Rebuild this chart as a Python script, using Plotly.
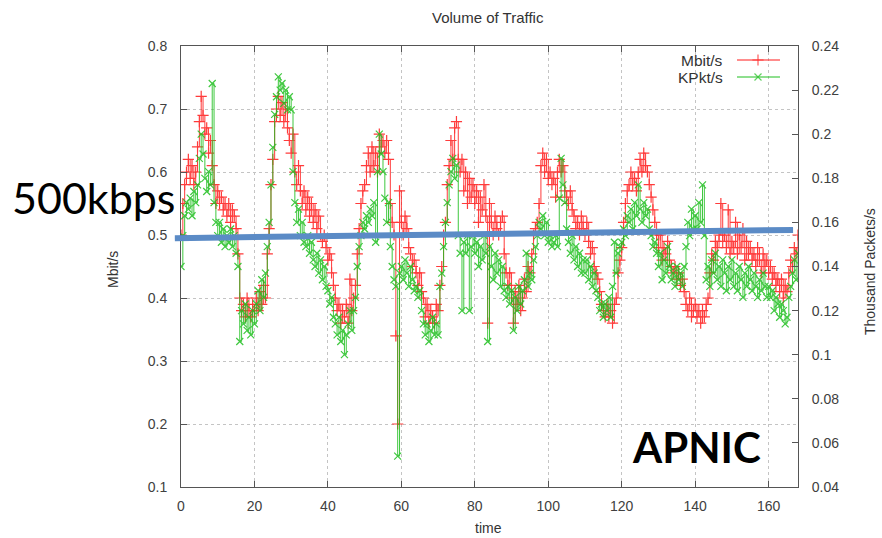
import plotly.graph_objects as go

# ---------------- data ----------------
time_step = 0.5
n_points = 337
time = [i * time_step for i in range(n_points)]

mbit = [
    0.50, 0.55, 0.58, 0.60, 0.62, 0.59, 0.61, 0.58, 0.60, 0.64, 0.68, 0.72, 0.69, 0.66, 0.67, 0.63, 0.65, 0.61, 0.58, 0.55,
    0.57, 0.55, 0.56, 0.54, 0.55, 0.53, 0.55, 0.52, 0.54, 0.53, 0.51, 0.47, 0.40, 0.38, 0.39, 0.37, 0.40, 0.38, 0.37, 0.39,
    0.38, 0.40, 0.38, 0.41, 0.39, 0.42, 0.40, 0.47, 0.51, 0.58, 0.62, 0.68, 0.70, 0.72, 0.69, 0.71, 0.68, 0.70, 0.67, 0.65,
    0.63, 0.66, 0.60, 0.58, 0.61, 0.57, 0.55, 0.57, 0.54, 0.56, 0.53, 0.55, 0.52, 0.54, 0.51, 0.53, 0.50, 0.49, 0.50, 0.48,
    0.46, 0.47, 0.44, 0.42, 0.40, 0.38, 0.39, 0.36, 0.38, 0.37, 0.39, 0.36, 0.43, 0.38, 0.40, 0.42, 0.47, 0.51, 0.55, 0.57,
    0.58, 0.61, 0.63, 0.60, 0.64, 0.61, 0.63, 0.60, 0.66, 0.64, 0.65, 0.63, 0.65, 0.62, 0.55, 0.52, 0.50, 0.34, 0.20, 0.57,
    0.52, 0.50, 0.53, 0.51, 0.48, 0.47, 0.45, 0.46, 0.44, 0.42, 0.44, 0.41, 0.40, 0.37, 0.39, 0.36, 0.38, 0.37, 0.36, 0.39,
    0.38, 0.42, 0.45, 0.50, 0.52, 0.58, 0.61, 0.65, 0.62, 0.67, 0.68, 0.62, 0.60, 0.62, 0.57, 0.60, 0.55, 0.59, 0.56, 0.58,
    0.55, 0.57, 0.52, 0.56, 0.54, 0.58, 0.53, 0.36, 0.55, 0.52, 0.50, 0.53, 0.51, 0.50, 0.52, 0.53, 0.47, 0.44, 0.42, 0.44,
    0.40, 0.36, 0.41, 0.39, 0.42, 0.38, 0.40, 0.43, 0.41, 0.45, 0.44, 0.47, 0.50, 0.51, 0.52, 0.55, 0.61, 0.63, 0.60, 0.62,
    0.59, 0.60, 0.58, 0.59, 0.56, 0.60, 0.62, 0.60, 0.61, 0.57, 0.56, 0.55, 0.57, 0.54, 0.53, 0.51, 0.52, 0.50, 0.53, 0.51,
    0.50, 0.52, 0.49, 0.47, 0.48, 0.45, 0.44, 0.43, 0.41, 0.39, 0.38, 0.37, 0.39, 0.37, 0.38, 0.36, 0.39, 0.40, 0.44, 0.46,
    0.48, 0.52, 0.55, 0.57, 0.58, 0.60, 0.58, 0.59, 0.57, 0.60, 0.62, 0.60, 0.63, 0.61, 0.60, 0.58, 0.56, 0.54, 0.52, 0.50,
    0.48, 0.50, 0.46, 0.48, 0.47, 0.49, 0.46, 0.45, 0.44, 0.45, 0.43, 0.44, 0.42, 0.43, 0.41, 0.39, 0.38, 0.40, 0.37, 0.38,
    0.39, 0.37, 0.38, 0.36, 0.38, 0.37, 0.39, 0.40, 0.44, 0.47, 0.46, 0.49, 0.48, 0.50, 0.55, 0.49, 0.50, 0.48, 0.54, 0.47,
    0.49, 0.48, 0.52, 0.47, 0.50, 0.48, 0.51, 0.46, 0.49, 0.47, 0.48, 0.46, 0.47, 0.45, 0.48, 0.46, 0.44, 0.47, 0.45, 0.46,
    0.44, 0.45, 0.43, 0.44, 0.42, 0.43, 0.41, 0.43, 0.40, 0.42, 0.41, 0.44, 0.46, 0.45, 0.48, 0.47, 0.50,
]

kpkt = [
    0.140, 0.154, 0.163, 0.169, 0.166, 0.171, 0.163, 0.174, 0.169, 0.177, 0.189, 0.200, 0.191, 0.180, 0.174, 0.183, 0.177, 0.223, 0.169, 0.160,
    0.154, 0.160, 0.151, 0.157, 0.149, 0.154, 0.151, 0.157, 0.149, 0.154, 0.146, 0.140, 0.106, 0.120, 0.114, 0.123, 0.111, 0.117, 0.109, 0.120,
    0.114, 0.123, 0.129, 0.120, 0.134, 0.126, 0.137, 0.149, 0.160, 0.177, 0.194, 0.209, 0.217, 0.226, 0.220, 0.223, 0.214, 0.220, 0.211, 0.217,
    0.211, 0.183, 0.169, 0.160, 0.166, 0.154, 0.160, 0.151, 0.149, 0.154, 0.146, 0.151, 0.143, 0.140, 0.146, 0.137, 0.143, 0.134, 0.140, 0.131,
    0.129, 0.123, 0.126, 0.117, 0.114, 0.109, 0.117, 0.106, 0.111, 0.100, 0.109, 0.114, 0.120, 0.111, 0.120, 0.126, 0.140, 0.149, 0.154, 0.160,
    0.157, 0.163, 0.160, 0.166, 0.163, 0.169, 0.151, 0.183, 0.200, 0.191, 0.183, 0.171, 0.160, 0.169, 0.149, 0.140, 0.134, 0.131, 0.054, 0.137,
    0.140, 0.134, 0.143, 0.137, 0.131, 0.140, 0.134, 0.129, 0.131, 0.126, 0.129, 0.120, 0.114, 0.109, 0.114, 0.106, 0.111, 0.117, 0.109, 0.114,
    0.109, 0.131, 0.137, 0.149, 0.160, 0.169, 0.177, 0.183, 0.189, 0.180, 0.186, 0.154, 0.146, 0.120, 0.151, 0.146, 0.154, 0.120, 0.149, 0.154,
    0.146, 0.151, 0.140, 0.149, 0.143, 0.154, 0.146, 0.106, 0.149, 0.140, 0.134, 0.146, 0.137, 0.143, 0.131, 0.140, 0.129, 0.126, 0.131, 0.123,
    0.129, 0.111, 0.126, 0.120, 0.131, 0.123, 0.129, 0.134, 0.146, 0.131, 0.137, 0.134, 0.143, 0.149, 0.154, 0.160, 0.157, 0.163, 0.154, 0.160,
    0.151, 0.154, 0.149, 0.151, 0.154, 0.149, 0.171, 0.189, 0.177, 0.169, 0.157, 0.151, 0.146, 0.154, 0.143, 0.149, 0.140, 0.146, 0.137, 0.143,
    0.137, 0.143, 0.134, 0.140, 0.131, 0.137, 0.129, 0.126, 0.120, 0.123, 0.117, 0.123, 0.120, 0.126, 0.117, 0.131, 0.151, 0.137, 0.146, 0.149,
    0.151, 0.157, 0.154, 0.163, 0.160, 0.166, 0.157, 0.169, 0.163, 0.177, 0.166, 0.160, 0.169, 0.163, 0.166, 0.157, 0.154, 0.149, 0.151, 0.146,
    0.140, 0.146, 0.134, 0.143, 0.137, 0.149, 0.140, 0.134, 0.137, 0.131, 0.140, 0.134, 0.137, 0.131, 0.140, 0.149, 0.160, 0.154, 0.166, 0.157,
    0.163, 0.157, 0.169, 0.160, 0.177, 0.154, 0.134, 0.140, 0.131, 0.143, 0.137, 0.146, 0.134, 0.140, 0.131, 0.143, 0.137, 0.129, 0.140, 0.134,
    0.143, 0.131, 0.137, 0.129, 0.140, 0.134, 0.126, 0.137, 0.131, 0.140, 0.134, 0.129, 0.137, 0.131, 0.126, 0.134, 0.129, 0.137, 0.131, 0.126,
    0.131, 0.126, 0.129, 0.120, 0.126, 0.123, 0.117, 0.123, 0.120, 0.114, 0.117, 0.126, 0.131, 0.137, 0.143, 0.134, 0.146,
]

x_ticks = [0, 20, 40, 60, 80, 100, 120, 140, 160]
x_range = [0, 168]
y_left_range = [0.1, 0.8]
y_right_range = [0.04, 0.24]

# overlay (blue "500kbps" line drawn on top of the chart)
trend_x_paper = [-0.01, 0.992]
trend_y = [0.495, 0.508]

series_names = ["Mbit/s", "KPkt/s"]
red = "#ff1a1a"
green = "#1fbf1f"

# ---------------- figure ----------------
W, H = 882, 538
L, R, T, B = 181, 84, 46, 51
PW, PH = W - L - R, H - T - B
font_family = "Liberation Sans, Arial, sans-serif"
tick_color = "#404040"


def px(xp):
    return (xp - L) / PW


def py(yp):
    return (H - B - yp) / PH


fig = go.Figure()

fig.add_trace(go.Scatter(
    x=time, y=mbit, name=series_names[0], mode="lines+markers",
    line=dict(color=red, width=1, shape="hv"),
    marker=dict(symbol="cross-thin", size=8, line=dict(color=red, width=1.2)),
    opacity=0.85, showlegend=False, yaxis="y",
))
fig.add_trace(go.Scatter(
    x=time, y=kpkt, name=series_names[1], mode="lines+markers",
    line=dict(color=green, width=1, shape="hv"),
    marker=dict(symbol="x-thin", size=7, line=dict(color=green, width=1.2)),
    opacity=0.85, showlegend=False, yaxis="y2",
))

# custom gnuplot-style legend (text left, sample right) on a hidden overlay axis
leg_x = [px(737), px(758), px(780)]
leg_y = [py(60), py(77)]
for i, (nm, col, sym, sz) in enumerate([(series_names[0], red, "cross-thin", 8),
                                         (series_names[1], green, "x-thin", 7)]):
    fig.add_trace(go.Scatter(
        x=leg_x, y=[leg_y[i]] * 3, mode="lines+markers", xaxis="x2", yaxis="y3",
        line=dict(color=col, width=1),
        marker=dict(symbol=sym, size=[0, sz, 0], line=dict(color=col, width=1.2)),
        showlegend=False, hoverinfo="skip",
    ))
    fig.add_annotation(x=px(725), y=leg_y[i], xref="paper", yref="paper",
                       text=nm, showarrow=False, xanchor="right", yanchor="middle",
                       font=dict(family=font_family, size=15.5, color="#333333"))

fig.add_shape(type="line", xref="paper", yref="y",
              x0=trend_x_paper[0], x1=trend_x_paper[1], y0=trend_y[0], y1=trend_y[1],
              line=dict(color="#5b8bc6", width=6), layer="above")

fig.add_annotation(x=px(93), y=py(197), xref="paper", yref="paper", text="500kbps",
                   showarrow=False, xanchor="center", yanchor="middle",
                   font=dict(family="Lato, Open Sans, sans-serif", size=43, color="black"))
fig.add_annotation(x=px(696), y=py(447), xref="paper", yref="paper", text="<b>APNIC</b>",
                   showarrow=False, xanchor="center", yanchor="middle",
                   font=dict(family="Lato, Open Sans, sans-serif", size=42, color="black"))

# axis titles and chart title
fig.add_annotation(x=px(113), y=py(270), xref="paper", yref="paper",
                   text="Mbit/s", textangle=-90, showarrow=False,
                   xanchor="center", yanchor="middle",
                   font=dict(family=font_family, size=14, color="#333333"))
fig.add_annotation(x=px(870), y=py(272), xref="paper", yref="paper",
                   text="Thousand Packets/s", textangle=-90, showarrow=False,
                   xanchor="center", yanchor="middle",
                   font=dict(family=font_family, size=14, color="#333333"))
fig.add_annotation(x=px(488), y=py(528), xref="paper", yref="paper",
                   text="time", showarrow=False, xanchor="center", yanchor="middle",
                   font=dict(family=font_family, size=14, color="#333333"))
fig.add_annotation(x=px(488), y=py(17), xref="paper", yref="paper",
                   text="Volume of Traffic", showarrow=False, xanchor="center", yanchor="middle",
                   font=dict(family=font_family, size=15, color="#333333"))

grid = dict(showgrid=True, gridcolor="#c4c4c4", griddash="dot", gridwidth=1)
fig.update_layout(
    width=W, height=H, margin=dict(l=L, r=R, t=T, b=B),
    paper_bgcolor="white", plot_bgcolor="white",
    font=dict(family=font_family, size=14, color=tick_color),
    xaxis=dict(range=x_range, tickvals=x_ticks, ticks="inside", ticklen=6,
               tickcolor="#555555", showline=True, linecolor="#555555", linewidth=1,
               mirror="ticks", zeroline=False, ticklabelstandoff=6, **grid),
    yaxis=dict(range=y_left_range, dtick=0.1, ticks="inside", ticklen=6,
               tickcolor="#555555", showline=True, linecolor="#555555", linewidth=1,
               zeroline=False, ticklabelstandoff=10, **grid),
    yaxis2=dict(range=y_right_range, dtick=0.02, overlaying="y", side="right",
                ticks="inside", ticklen=6, tickcolor="#555555", showline=True,
                linecolor="#555555", linewidth=1, showgrid=False, zeroline=False,
                ticklabelstandoff=10),
    xaxis2=dict(range=[0, 1], overlaying="x", visible=False),
    yaxis3=dict(range=[0, 1], overlaying="y", visible=False),
)

fig.write_html("out.html")
